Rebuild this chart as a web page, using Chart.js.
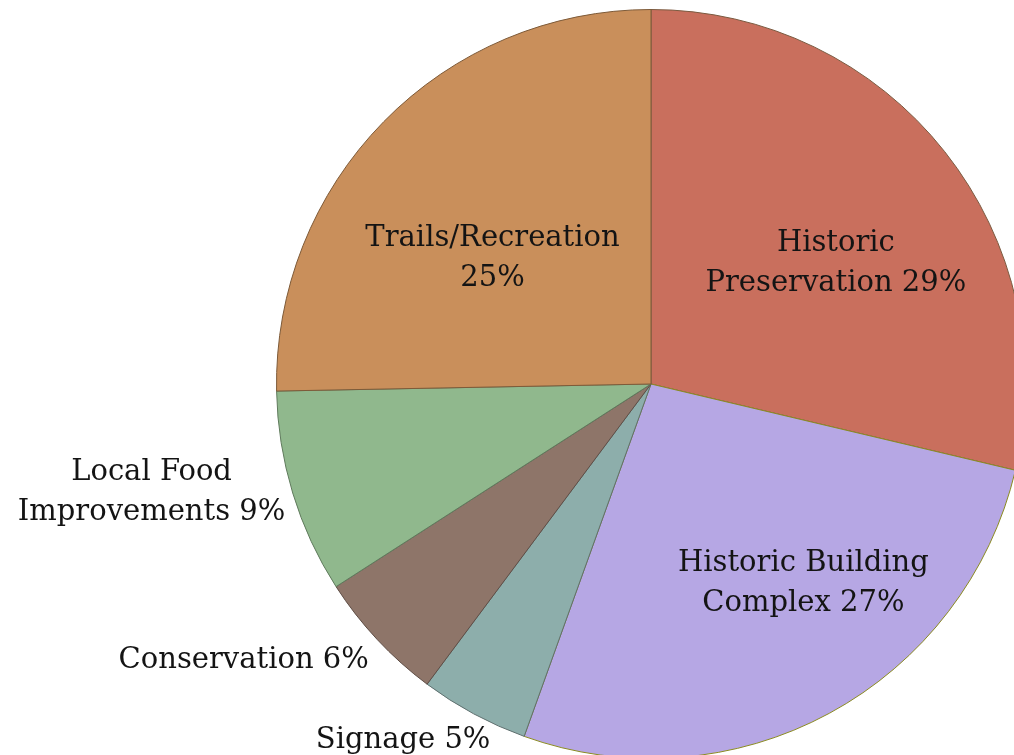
<!DOCTYPE html>
<html>
<head>
<meta charset="utf-8">
<script src="https://cdn.jsdelivr.net/npm/chart.js@4/dist/chart.umd.min.js"></script>
<style>
html,body{margin:0;padding:0;background:#fff;overflow:hidden;width:1014px;height:755px;}
#c{position:absolute;left:0;top:0;}
</style>
</head>
<body>
<canvas id="c" width="1030" height="770"></canvas>
<script>
const categories = ["Historic Preservation","Historic Building Complex","Signage","Conservation","Local Food Improvements","Trails/Recreation"];
const values = [28.7, 26.8, 4.7, 5.7, 8.8, 25.3];
const percentLabels = ["29%","27%","5%","6%","9%","25%"];
const labelLines = [
  ["Historic","Preservation 29%"],
  ["Historic Building","Complex 27%"],
  ["Signage 5%"],
  ["Conservation 6%"],
  ["Local Food","Improvements 9%"],
  ["Trails/Recreation","25%"]
];
const colors = ["#C96F5D","#B6A7E4","#8DAEAB","#8E7569","#90B88D","#C98F5B"];
const borders = ["#7a5a40","#8a8a20","#5e6f6e","#5e4d45","#5f7a5c","#7d5a38"];

// label placement: [angle from 12 o'clock clockwise in degrees, fraction of radius]
const placement = [[56.8,0.59],[142.6,0.67],[214.8,1.16],[235.8,1.315],[257.7,1.365],[308.4,0.54]];

const labelPlugin = {
  id:'sliceLabels',
  afterDatasetsDraw(chart){
    const ctx = chart.ctx;
    const meta = chart.getDatasetMeta(0);
    ctx.save();
    ctx.font = '29px "DejaVu Serif", serif';
    ctx.fillStyle = '#141414';
    ctx.textAlign = 'center';
    ctx.textBaseline = 'middle';
    meta.data.forEach((arc,i)=>{
      const [deg,frac] = placement[i];
      const a = (deg-90)*Math.PI/180;
      const r = arc.outerRadius*frac;
      const x = arc.x + Math.cos(a)*r;
      const y = arc.y + Math.sin(a)*r;
      const lines = labelLines[i];
      const lh = 40;
      lines.forEach((t,j)=>{
        ctx.fillText(t, x, y + (j-(lines.length-1)/2)*lh);
      });
    });
    ctx.restore();
  }
};

new Chart(document.getElementById('c'),{
  type:'pie',
  data:{labels:categories,datasets:[{data:values,backgroundColor:colors,borderColor:borders,borderWidth:1}]},
  options:{
    responsive:false,
    animation:false,
    layout:{padding:{left:276,top:9,right:4,bottom:11}},
    plugins:{legend:{display:false},tooltip:{enabled:false}}
  },
  plugins:[labelPlugin]
});
</script>
</body>
</html>
